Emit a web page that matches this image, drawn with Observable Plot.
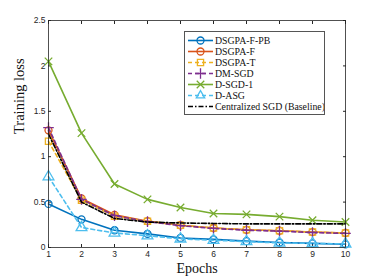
<!DOCTYPE html>
<html><head><meta charset="utf-8">
<script src="https://cdn.jsdelivr.net/npm/d3@7"></script>
<script src="https://cdn.jsdelivr.net/npm/@observablehq/plot@0.6"></script>
<style>
body{margin:0;background:#fff}
#wrap{position:relative;width:374px;height:280px}
#legend{position:absolute;left:184px;top:31px;background:#fff;border:1px solid #555}
</style>
</head><body><div id="wrap"></div>
<script>
const epochs = [1,2,3,4,5,6,7,8,9,10];
const names = ["DSGPA-F-PB","DSGPA-F","DSGPA-T","DM-SGD","D-SGD-1","D-ASG","Centralized SGD (Baseline)"];
const colors = ["#0072BD","#D95319","#EDB120","#7E2F8E","#77AC30","#4DBEEE","#000000"];
const symbols = ["circle","circle","square","plus","times","triangle",null];
const dashes = [null,null,"4,3","4,3",null,"4,3","5,2,1.5,2"];
const dsgpaFPB = [0.48,0.31,0.19,0.15,0.105,0.09,0.07,0.055,0.045,0.035];
const dsgpaF   = [1.29,0.54,0.36,0.29,0.245,0.215,0.195,0.185,0.17,0.16];
const dsgpaT   = [1.17,0.52,0.345,0.29,0.245,0.215,0.195,0.185,0.17,0.16];
const dmSGD    = [1.32,0.53,0.35,0.285,0.24,0.21,0.19,0.18,0.165,0.155];
const dSGD1    = [2.05,1.26,0.70,0.53,0.44,0.375,0.365,0.34,0.30,0.28];
const dASG     = [0.78,0.22,0.16,0.13,0.095,0.08,0.065,0.05,0.045,0.04];
const central  = [1.25,0.50,0.32,0.28,0.27,0.265,0.26,0.26,0.26,0.26];
const values = [dsgpaFPB,dsgpaF,dsgpaT,dmSGD,dSGD1,dASG,central];
const yTicks = [0,0.5,1,1.5,2,2.5];

const data = [];
values.forEach((vals,i)=>vals.forEach((v,j)=>data.push({series:names[i],idx:i,x:epochs[j],y:v})));

const marks = [];
values.forEach((vals,i)=>{
  const d = data.filter(r=>r.idx===i);
  marks.push(Plot.line(d,{x:"x",y:"y",stroke:colors[i],strokeWidth:1.6,strokeDasharray:dashes[i]}));
  if (symbols[i]) marks.push(Plot.dot(d,{x:"x",y:"y",stroke:colors[i],symbol:symbols[i],r:symbols[i]==="triangle"?4:3.5,strokeWidth:1.3,fill:"none"}));
});

const axisStyle = {fontFamily:"Liberation Sans, Arial, sans-serif",fontSize:8.5,color:"#262626"};
const blank = () => "";
const chart = Plot.plot({
  width:374,height:280,
  marginLeft:48,marginRight:29,marginTop:20,marginBottom:33,
  style:{background:"#fff",...axisStyle},
  x:{domain:[1,10],label:null},
  y:{domain:[0,2.5],label:null},
  marks:[
    Plot.axisX({ticks:epochs,tickSize:-3,tickPadding:6,stroke:"#262626",fill:"#262626",tickFormat:d=>d}),
    Plot.axisX({anchor:"top",ticks:epochs,tickSize:-3,tickFormat:blank,stroke:"#262626"}),
    Plot.axisY({ticks:yTicks,tickSize:-3,tickPadding:6,stroke:"#262626",fill:"#262626",tickFormat:d=>String(d)}),
    Plot.axisY({anchor:"right",ticks:yTicks,tickSize:-3,tickFormat:blank,stroke:"#262626"}),
    ...marks,
    Plot.frame({stroke:"#262626",strokeWidth:0.8}),
    Plot.text(["Epochs"],{frameAnchor:"bottom",dy:25,fontFamily:"Liberation Serif, serif",fontSize:14,fill:"#111"}),
    Plot.text(["Training loss"],{frameAnchor:"left",dx:-29,rotate:-90,fontFamily:"Liberation Serif, serif",fontSize:14.5,fill:"#111"})
  ]
});
const wrap = document.getElementById("wrap");
wrap.appendChild(chart);

// legend overlay
const rowH = 11, lw = 139, lh = names.length*rowH+5;
const leg = d3.select(wrap).append("div").attr("id","legend")
  .append("svg").attr("width",lw).attr("height",lh).style("display","block");
const symMap = {circle:d3.symbolCircle,square:d3.symbolSquare,plus:d3.symbolPlus,times:d3.symbolTimes,triangle:d3.symbolTriangle2};
names.forEach((n,i)=>{
  const y = 3 + i*rowH + rowH/2;
  const g = leg.append("g");
  g.append("line").attr("x1",3).attr("x2",28).attr("y1",y).attr("y2",y)
    .attr("stroke",colors[i]).attr("stroke-width",1.6).attr("stroke-dasharray",dashes[i]);
  if (symbols[i]) {
    const s = symbols[i]==="triangle"?4:3.5;
    g.append("path").attr("d",d3.symbol(symMap[symbols[i]], Math.PI*s*s)()).attr("transform",`translate(15.5,${y})`)
      .attr("fill","none").attr("stroke",colors[i]).attr("stroke-width",1.3);
  }
  g.append("text").attr("x",30).attr("y",y).attr("dy","0.35em").text(n)
    .style("font-family","Liberation Serif, serif").style("font-size","9.8px").attr("fill","#111");
});
</script></body></html>
